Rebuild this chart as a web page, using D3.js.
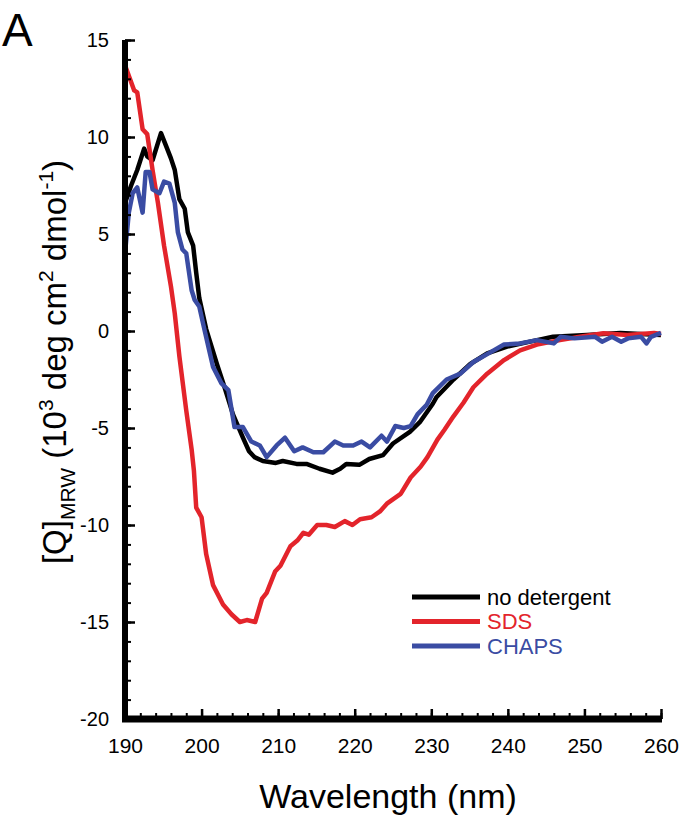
<!DOCTYPE html>
<html>
<head>
<meta charset="utf-8">
<script src="https://cdn.jsdelivr.net/npm/d3@7"></script>
<style>
  body { margin: 0; background: #fff; }
  svg { display: block; }
</style>
</head>
<body>
<div id="chart"></div>
<script>
// Series: [wavelength (nm), [Q]MRW (10^3 deg cm2 dmol-1)]
const noDetergent = [
    [190.0, 6.6], [190.8, 7.5], [191.6, 8.3], [192.5, 9.4], [192.9, 9.0], [193.6, 8.8],
    [194.7, 10.2], [195.4, 9.5], [196.0, 8.9], [196.5, 8.3], [197.1, 6.8], [197.8, 6.3],
    [198.2, 5.1], [198.9, 4.4], [199.3, 3.0], [199.7, 1.7], [200.6, 0.1], [202.0, -1.7],
    [203.0, -2.9], [204.1, -4.3], [205.4, -5.5], [206.2, -6.2], [206.9, -6.5], [208.0, -6.7],
    [209.7, -6.8], [210.6, -6.7], [212.4, -6.85], [213.7, -6.85], [215.4, -7.1], [217.1, -7.3],
    [218.1, -7.1], [218.9, -6.85], [220.6, -6.9], [221.9, -6.6], [223.7, -6.4], [225.0, -5.8],
    [227.2, -5.2], [228.5, -4.7], [230.2, -3.75], [230.7, -3.4], [232.9, -2.5], [235.1, -1.7],
    [237.3, -1.15], [239.9, -0.8], [242.9, -0.55], [245.9, -0.3], [250.3, -0.2], [254.7, -0.1],
    [260.0, -0.2]
];

const sds = [
    [190.0, 13.7], [191.2, 12.4], [191.6, 12.3], [192.3, 10.4], [192.9, 10.15], [193.6, 8.3],
    [194.3, 6.6], [195.1, 4.4], [196.0, 2.3], [196.5, 0.9], [197.1, -1.3], [198.0, -4.1],
    [198.7, -6.1], [199.0, -7.2], [199.3, -9.1], [200.0, -9.6], [200.6, -11.5], [201.5, -13.1],
    [202.8, -14.1], [203.9, -14.6], [205.0, -15.0], [205.9, -14.9], [207.0, -15.0], [207.9, -13.8],
    [208.5, -13.5], [209.6, -12.4], [210.3, -12.1], [211.6, -11.1], [212.5, -10.8], [213.3, -10.4],
    [214.0, -10.5], [215.1, -10.0], [216.3, -10.0], [217.4, -10.1], [218.7, -9.8], [219.7, -10.0],
    [220.7, -9.7], [222.2, -9.6], [223.3, -9.3], [224.2, -8.9], [226.0, -8.4], [227.3, -7.55],
    [228.6, -7.0], [229.5, -6.5], [230.8, -5.6], [231.7, -5.1], [232.9, -4.4], [234.2, -3.7],
    [235.5, -2.9], [237.3, -2.2], [239.5, -1.5], [241.6, -1.0], [243.8, -0.7], [246.8, -0.47],
    [249.4, -0.3], [252.5, -0.12], [255.6, -0.2], [259.1, -0.1], [260.0, -0.15]
];

const chaps = [
    [190.0, 4.0], [190.5, 6.1], [191.0, 7.1], [191.6, 7.4], [192.3, 6.1], [192.7, 8.2],
    [193.2, 8.2], [193.6, 7.3], [194.5, 7.1], [195.1, 7.7], [195.8, 7.6], [196.5, 6.6],
    [196.9, 5.1], [197.5, 4.2], [198.0, 4.0], [198.7, 2.1], [199.1, 1.6], [199.7, 1.26],
    [200.3, 0.2], [201.0, -1.0], [201.5, -1.85], [202.6, -2.7], [203.5, -3.05], [204.3, -4.95],
    [205.4, -4.95], [206.5, -5.7], [207.6, -5.9], [208.5, -6.5], [209.8, -5.9], [210.9, -5.5],
    [212.1, -6.2], [213.2, -6.0], [214.6, -6.25], [215.9, -6.25], [217.4, -5.7], [218.5, -5.9],
    [219.8, -5.9], [220.9, -5.7], [222.0, -6.0], [223.5, -5.4], [224.2, -5.7], [225.3, -4.9],
    [226.4, -5.0], [227.3, -4.9], [228.2, -4.3], [229.4, -3.8], [230.2, -3.2], [232.0, -2.5],
    [233.8, -2.2], [235.5, -1.6], [237.7, -1.1], [239.5, -0.7], [241.6, -0.64], [243.8, -0.47],
    [246.0, -0.64], [246.9, -0.3], [248.7, -0.38], [251.4, -0.3], [252.3, -0.55], [253.6, -0.3],
    [254.8, -0.55], [255.7, -0.38], [257.4, -0.3], [258.1, -0.64], [258.7, -0.3], [260.0, -0.1]
];

const seriesNames = ["no detergent", "SDS", "CHAPS"];
const seriesData = [noDetergent, sds, chaps];
const seriesColors = ["#000000", "#e3242b", "#3a4ca3"];

const xMajorTicks = [190, 200, 210, 220, 230, 240, 250, 260];
const yMajorTicks = [-20, -15, -10, -5, 0, 5, 10, 15];

// Dimensions
const width = 682;
const height = 816;
const font = "Liberation Sans, Arial, Helvetica, sans-serif";

const x = d3.scaleLinear()
    .domain([190, 260])
    .range([125, 661]);

const y = d3.scaleLinear()
    .domain([-20, 15])
    .range([719, 40]);

const svg = d3.select("#chart")
    .append("svg")
    .attr("width", width)
    .attr("height", height)
    .attr("viewBox", [0, 0, width, height])
    .style("font-family", font);

// Curves
const line = d3.line()
    .x(d => x(d[0]))
    .y(d => y(d[1]));

svg.append("g")
    .selectAll("path")
    .data(seriesData)
    .join("path")
    .attr("fill", "none")
    .attr("stroke", (d, i) => seriesColors[i])
    .attr("stroke-width", 4.5)
    .attr("stroke-linejoin", "round")
    .attr("stroke-linecap", "butt")
    .attr("d", line);

// Minor ticks (no labels)
svg.append("g")
    .attr("transform", `translate(${x(190)},0)`)
    .call(d3.axisLeft(y).ticks(35).tickSize(-6).tickFormat(""))
    .call(g => g.select(".domain").remove())
    .call(g => g.selectAll("line").attr("stroke-width", 2));

svg.append("g")
    .attr("transform", `translate(0,${y(-20)})`)
    .call(d3.axisBottom(x).ticks(35).tickSize(-6).tickFormat(""))
    .call(g => g.select(".domain").remove())
    .call(g => g.selectAll("line").attr("stroke-width", 2));

// Major ticks with labels
svg.append("g")
    .attr("transform", `translate(${x(190)},0)`)
    .call(d3.axisLeft(y).tickValues(yMajorTicks).tickSize(-10).tickPadding(16).tickFormat(d => String(d)))
    .call(g => g.select(".domain").remove())
    .call(g => g.selectAll("line").attr("stroke-width", 2.5))
    .call(g => g.selectAll("text")
        .attr("font-family", font)
        .attr("font-size", 20)
        .attr("fill", "#000"));

svg.append("g")
    .attr("transform", `translate(0,${y(-20)})`)
    .call(d3.axisBottom(x).tickValues(xMajorTicks).tickSize(-10).tickPadding(19).tickFormat(d => String(d)))
    .call(g => g.select(".domain").remove())
    .call(g => g.selectAll("line").attr("stroke-width", 2.5))
    .call(g => g.selectAll("text")
        .attr("font-family", font)
        .attr("font-size", 21)
        .attr("fill", "#000"));

// Thick axis lines
svg.append("line")
    .attr("x1", x(190)).attr("x2", x(190))
    .attr("y1", y(15)).attr("y2", y(-20) + 3)
    .attr("stroke", "#000")
    .attr("stroke-width", 6);

svg.append("line")
    .attr("x1", x(190) - 3).attr("x2", x(260) + 1)
    .attr("y1", y(-20)).attr("y2", y(-20))
    .attr("stroke", "#000")
    .attr("stroke-width", 7);

// Axis titles
svg.append("text")
    .attr("x", 388)
    .attr("y", 808)
    .attr("text-anchor", "middle")
    .attr("font-size", 34)
    .text("Wavelength (nm)");

const yTitle = svg.append("text")
    .attr("transform", "translate(66,362) rotate(-90)")
    .attr("text-anchor", "middle")
    .attr("font-size", 33);
yTitle.append("tspan").text("[Q]");
yTitle.append("tspan").attr("font-size", 21).attr("dy", 9).text("MRW");
yTitle.append("tspan").attr("dy", -9).text(" (10");
yTitle.append("tspan").attr("font-size", 21).attr("dy", -13).text("3");
yTitle.append("tspan").attr("dy", 13).text(" deg cm");
yTitle.append("tspan").attr("font-size", 21).attr("dy", -13).text("2");
yTitle.append("tspan").attr("dy", 13).text(" dmol");
yTitle.append("tspan").attr("font-size", 21).attr("dy", -13).text("-1");
yTitle.append("tspan").attr("dy", 13).text(")");

// Panel letter
svg.append("text")
    .attr("x", 2)
    .attr("y", 46)
    .attr("font-size", 46)
    .text("A");

// Legend
const legend = svg.append("g")
    .selectAll("g")
    .data(seriesNames)
    .join("g")
    .attr("transform", (d, i) => `translate(412,${597 + i * 24.5})`);

legend.append("line")
    .attr("x1", 0).attr("x2", 68)
    .attr("stroke", (d, i) => seriesColors[i])
    .attr("stroke-width", 5);

legend.append("text")
    .attr("x", 75)
    .attr("dy", "0.36em")
    .attr("font-size", 22)
    .attr("fill", (d, i) => i === 0 ? "#000" : seriesColors[i])
    .text(d => d);
</script>
</body>
</html>
